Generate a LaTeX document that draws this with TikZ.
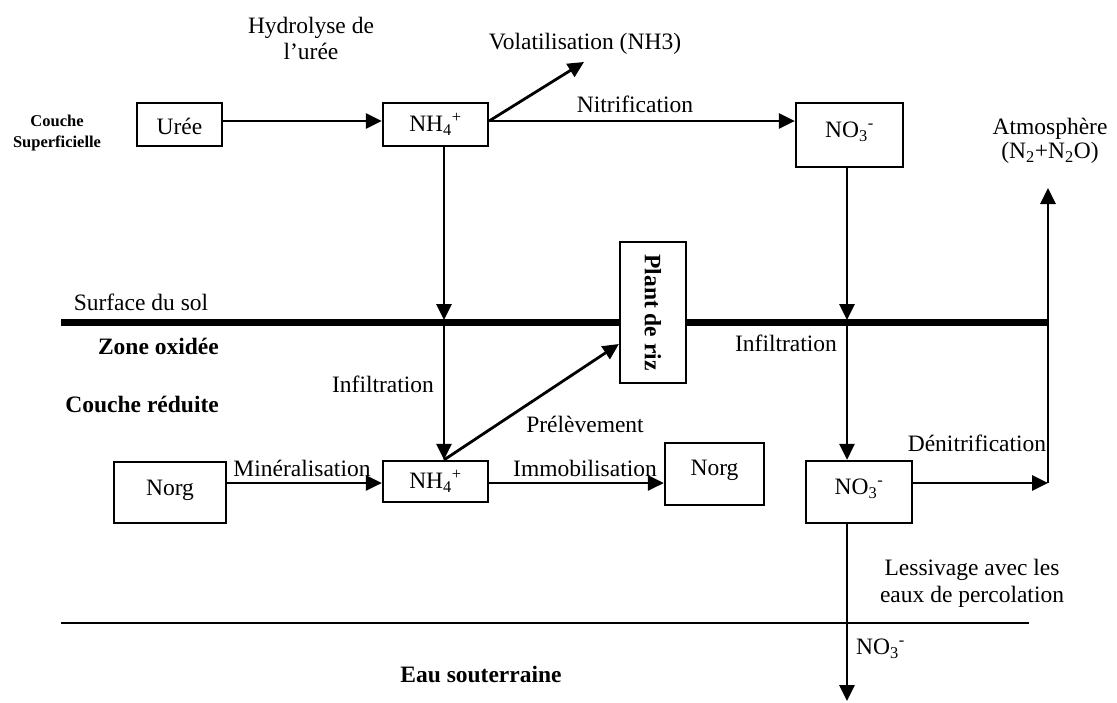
\documentclass[tikz,border=0pt]{standalone}
\usepackage{fontspec}
\setmainfont{Liberation Serif}
\usetikzlibrary{arrows.meta}
\newcommand{\fs}{\fontsize{23.5}{26}\selectfont}
\newcommand{\fss}{\fontsize{16.5}{21}\selectfont}
\begin{document}
\begin{tikzpicture}[x=1pt,y=-1pt,
  box/.style={draw, line width=2.2pt, fill=white, inner sep=0pt, font=\fs},
  up5/.style={text height=12pt, text depth=6.5pt},
  up6/.style={text height=12pt, text depth=8.5pt},
  dn2/.style={text height=20pt, text depth=0.5pt},
  arr/.style={line width=2.8pt, -{Triangle[length=16pt,width=15pt]}},
  lbl/.style={inner sep=0pt, font=\fs},
  blbl/.style={inner sep=0pt, font=\fs\bfseries},
  sblbl/.style={inner sep=0pt, font=\fss\bfseries}]
\useasboundingbox (0,0) rectangle (1117,702);

% coordinates
\coordinate (r1) at (0,121);
\coordinate (r2) at (0,483);
\coordinate (s1) at (444,320);
\coordinate (s2) at (847,320);
\coordinate (sl) at (61,322);
\coordinate (sr) at (1048,322);
\coordinate (dn) at (1048,483);
\coordinate (at) at (1048,188);
\coordinate (vt) at (584,62);
\coordinate (pt) at (621,344);
\coordinate (gl) at (61,623);
\coordinate (gr) at (1029,623);
\coordinate (gb) at (847,701);

% soil surface and groundwater lines
\draw[line width=7pt] (sl) -- (sr);
\draw[line width=2pt] (gl) -- (gr);

% boxes
\node[box, dn2, minimum width=85pt, minimum height=43pt] (u) at (179.5,124.5) {Urée};
\node[box, minimum width=105pt, minimum height=43pt] (n1) at (435.5,124.5) {NH\textsubscript{4}\textsuperscript{+}};
\node[box, up5, minimum width=107pt, minimum height=64pt] (no1) at (849.5,135) {NO\textsubscript{3}\textsuperscript{-}};
\node[box, minimum width=66pt, minimum height=141pt] (plant) at (653,312.5) {\rotatebox{-90}{\bfseries Plant de riz}};
\node[box, up5, minimum width=112pt, minimum height=61pt] (nl) at (170,492.5) {Norg};
\node[box, minimum width=105pt, minimum height=41pt] (n2) at (435.5,481.5) {NH\textsubscript{4}\textsuperscript{+}};
\node[box, up6, minimum width=99pt, minimum height=62pt] (nr) at (714.5,474) {Norg};
\node[box, up5, minimum width=106pt, minimum height=62pt] (no2) at (859,492) {NO\textsubscript{3}\textsuperscript{-}};

% labels
\node[lbl, align=center] (hyd) at (311,38) {Hydrolyse de\\l’urée};
\node[lbl] (vol) at (585,44) {Volatilisation (NH3)};
\node[lbl] (nit) at (635,104) {Nitrification};
\node[lbl, align=center, font=\fontsize{23.5}{24}\selectfont] (atm) at (1050,141) {Atmosphère\\(N\textsubscript{2}+N\textsubscript{2}O)};
\node[sblbl, align=center] (cs) at (57,133) {Couche\\Superficielle};
\node[lbl] (sds) at (141,302) {Surface du sol};
\node[blbl, anchor=east] (zo) at (219,346) {Zone oxidée};
\node[blbl, anchor=east] (cr) at (219,404) {Couche réduite};
\node[lbl] (inf1) at (383,384) {Infiltration};
\node[lbl] (inf2) at (786,343) {Infiltration};
\node[lbl] (prel) at (585,424) {Prélèvement};
\node[lbl] (min) at (302,468) {Minéralisation};
\node[lbl] (imm) at (585,468) {Immobilisation};
\node[lbl] (den) at (977,443) {Dénitrification};
\node[lbl, align=center, font=\fontsize{23.5}{27}\selectfont] (less) at (972,583) {Lessivage avec les\\eaux de percolation};
\node[lbl, anchor=west] (no3g) at (856,649) {NO\textsubscript{3}\textsuperscript{-}};
\node[blbl] (eau) at (481,674) {Eau souterraine};

% connectors
\draw[arr] (u.east |- r1) -- (n1.west |- r1);
\draw[arr] (n1.east |- r1) -- (vt);
\draw[arr] (n1.east |- r1) -- (no1.west |- r1);
\draw[arr] (s1 |- n1.south) -- (s1);
\draw[arr] (s1) -- (s1 |- n2.north);
\draw[arr] (s1 |- n2.north) -- (plant.west |- pt);
\draw[arr] (s2 |- no1.south) -- (s2);
\draw[arr] (s2) -- (s2 |- no2.north);
\draw[arr] (nl.east |- r2) -- (n2.west |- r2);
\draw[arr] (n2.east |- r2) -- (nr.west |- r2);
\draw[arr] (no2.east |- r2) -- (dn);
\draw[arr] (dn) -- (at);
\draw[arr] (s2 |- no2.south) -- (gb);
\end{tikzpicture}
\end{document}
